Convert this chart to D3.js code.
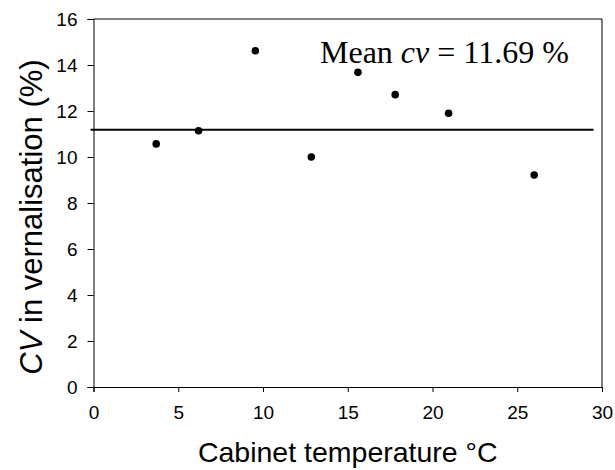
<!DOCTYPE html>
<html>
<head>
<meta charset="utf-8">
<script src="https://cdn.jsdelivr.net/npm/d3@7"></script>
<style>
  body { margin: 0; background: #fff; }
  svg { display: block; }
</style>
</head>
<body>
<div id="chart-area"></div>
<script>
// data
var temps = [3.7, 6.2, 9.55, 12.85, 15.6, 17.8, 20.95, 26.0];
var cvValues = [10.57, 11.14, 14.62, 10.0, 13.68, 12.71, 11.9, 9.22];
var meanLine = 11.19;
var meanExtent = [0, 29.5];
var xTicks = [0, 5, 10, 15, 20, 25, 30];
var yTicks = [0, 2, 4, 6, 8, 10, 12, 14, 16];

var margin = {left: 93.5, top: 19, right: 13, bottom: 83};
var width = 615 - margin.left - margin.right;
var height = 470 - margin.top - margin.bottom;

var svg = d3.select("#chart-area")
    .append("svg")
        .attr("width", 615)
        .attr("height", 470);

var g = svg.append("g")
    .attr("transform", "translate(" + margin.left + ", " + margin.top + ")");

var x = d3.scaleLinear().domain([0, 30]).range([0, width]);
var y = d3.scaleLinear().domain([0, 16]).range([height, 0]);

// frame (top and right)
g.append("path")
    .attr("d", "M0,0H" + width + "V" + height)
    .attr("fill", "none")
    .attr("stroke", "#000")
    .attr("stroke-width", 1);

// x axis
var xAxisCall = d3.axisBottom(x).tickValues(xTicks).tickSizeOuter(0).tickSize(5).tickPadding(14);
var xAx = g.append("g")
    .attr("transform", "translate(0, " + height + ")")
    .call(xAxisCall);

// y axis
var yAxisCall = d3.axisLeft(y).tickValues(yTicks).tickSizeOuter(0).tickSize(6).tickPadding(10);
var yAx = g.append("g")
    .call(yAxisCall);

[xAx, yAx].forEach(function(ax){
    ax.select(".domain").attr("stroke", "#000");
    ax.selectAll(".tick line").attr("stroke", "#000");
    ax.selectAll("text")
        .attr("font-family", "Arial, 'Liberation Sans', sans-serif")
        .attr("font-size", "19px")
        .attr("fill", "#000");
});

// mean line
g.append("line")
    .attr("x1", x(meanExtent[0]) - 3)
    .attr("x2", x(meanExtent[1]))
    .attr("y1", y(meanLine))
    .attr("y2", y(meanLine))
    .attr("stroke", "#000")
    .attr("stroke-width", 2);

// points
g.selectAll("circle")
    .data(temps)
    .enter()
    .append("circle")
        .attr("cx", function(d){ return x(d); })
        .attr("cy", function(d, i){ return y(cvValues[i]); })
        .attr("r", 3.8)
        .attr("fill", "#000");

// annotation
var ann = svg.append("text")
    .attr("x", 320)
    .attr("y", 63)
    .attr("font-family", "'Times New Roman', 'Liberation Serif', serif")
    .attr("font-size", "32px")
    .attr("fill", "#000");
ann.append("tspan").text("Mean ");
ann.append("tspan").attr("font-style", "italic").text("cv");
ann.append("tspan").text(" = 11.69 %");

// x label
svg.append("text")
    .attr("x", margin.left + width / 2)
    .attr("y", 462)
    .attr("text-anchor", "middle")
    .attr("font-family", "Arial, 'Liberation Sans', sans-serif")
    .attr("font-size", "28.5px")
    .attr("fill", "#000")
    .text("Cabinet temperature °C");

// y label
var yl = svg.append("text")
    .attr("transform", "translate(42, 217) rotate(-90)")
    .attr("text-anchor", "middle")
    .attr("font-family", "Arial, 'Liberation Sans', sans-serif")
    .attr("font-size", "31px")
    .attr("fill", "#000");
yl.append("tspan").attr("font-style", "italic").text("CV");
yl.append("tspan").text(" in vernalisation (%)");
</script>
</body>
</html>
